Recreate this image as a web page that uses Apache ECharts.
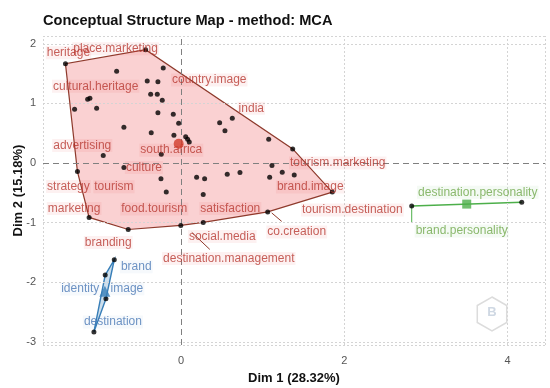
<!DOCTYPE html>
<html><head><meta charset="utf-8">
<script src="https://cdn.jsdelivr.net/npm/echarts@6/dist/echarts.min.js"></script>
<style>html,body{margin:0;padding:0;background:#fff}#c{width:550px;height:388px}</style>
</head><body><div id="c"></div>
<script>
// ---------- data ----------
const dim1Ticks = [0, 2, 4];
const dim2Ticks = [-3, -2, -1, 0, 1, 2];
const dim1Range = [-1.69, 4.46];
const dim2Range = [-3.05, 2.13];

const cluster1 = [
  [-1.415, 1.666, 'heritage'],
  [-0.433, 1.900, 'place.marketing'],
  [-0.788, 1.537, ''],
  [-0.217, 1.592, 'country.image'],
  [-0.413, 1.375, ''],
  [-0.282, 1.363, ''],
  [-0.371, 1.152, ''],
  [-0.290, 1.152, ''],
  [-0.229, 1.052, ''],
  [-1.143, 1.069, 'cultural.heritage'],
  [-1.115, 1.085, ''],
  [-1.303, 0.901, ''],
  [-1.033, 0.918, ''],
  [-0.282, 0.844, ''],
  [-0.094, 0.818, ''],
  [-0.028, 0.667, ''],
  [-0.699, 0.600, ''],
  [-0.364, 0.510, ''],
  [-0.086, 0.467, ''],
  [0.058, 0.443, ''],
  [0.082, 0.400, ''],
  [0.102, 0.355, ''],
  [0.474, 0.677, ''],
  [0.629, 0.751, 'india'],
  [0.539, 0.543, ''],
  [1.075, 0.400, ''],
  [1.369, 0.237, 'tourism.marketing'],
  [-0.952, 0.125, 'advertising'],
  [-0.241, 0.149, 'south.africa'],
  [-0.699, -0.075, 'culture'],
  [-1.268, -0.142, 'strategy'],
  [0.192, -0.236, ''],
  [0.290, -0.264, ''],
  [0.567, -0.186, ''],
  [0.723, -0.159, ''],
  [1.115, -0.042, ''],
  [1.241, -0.156, ''],
  [1.388, -0.202, 'brand.image'],
  [1.087, -0.236, ''],
  [-0.245, -0.264, 'tourism'],
  [-0.180, -0.487, 'food.tourism'],
  [0.273, -0.527, 'satisfaction'],
  [1.854, -0.487, 'tourism.destination'],
  [1.063, -0.819, 'co.creation'],
  [0.273, -0.995, 'social.media'],
  [-0.002, -1.045, 'destination.management'],
  [-0.646, -1.114, 'branding'],
  [-1.125, -0.911, 'marketing']
];
const cluster2 = [
  [-0.817, -1.620, 'brand'],
  [-0.928, -1.878, 'identity'],
  [-0.919, -2.274, 'image'],
  [-1.066, -2.830, 'destination']
];
const cluster3 = [
  [2.827, -0.719, 'brand.personality'],
  [4.175, -0.657, 'destination.personality']
];
const centroid1 = [-0.028, 0.324];
const centroid2 = [-0.932, -2.150];
const centroid3 = [3.501, -0.688];

// ---------- layout (label placement, px offsets from point) ----------
const labelOffsets = {
  'heritage': [3, -11], 'place.marketing': [-30, -1], 'country.image': [46, 12],
  'cultural.heritage': [8, -13], 'india': [19, -10], 'tourism.marketing': [45, 14],
  'advertising': [-21, -10], 'south.africa': [10, -4], 'culture': [20, 0],
  'strategy': [-9, 15], 'brand.image': [16, 12], 'tourism': [-47, 8],
  'food.tourism': [-12, 17], 'satisfaction': [27, 14], 'tourism.destination': [20, 18],
  'co.creation': [29, 20], 'social.media': [19, 14], 'destination.management': [48, 33],
  'branding': [-20, 13], 'marketing': [-15, -9],
  'brand': [22, 7], 'identity': [-25, 14], 'image': [21, -10], 'destination': [19, -10],
  'brand.personality': [50, 25], 'destination.personality': [-44, -10]
};
const segmentOffsets = {
  'destination.management': [[11, 7], [29, 24]],
  'co.creation': [[4, 1], [14, 9.5]],
  'brand.personality': [[0, 0], [0, 17]]
};

const styles = [
  { text: '#B83A32', bg: 'rgba(228,26,28,0.08)', fill: 'rgba(228,26,28,0.2)', stroke: '#8E3A2C', cen: '#D13B2B', sym: 'circle', cs: 10 },
  { text: '#4A78B5', bg: 'rgba(55,126,184,0.06)', fill: 'rgba(55,126,184,0.25)', stroke: '#377EB8', cen: '#377EB8', sym: 'triangle', cs: 11 },
  { text: '#6FA84A', bg: 'rgba(77,175,74,0.08)', fill: 'rgba(77,175,74,0.2)', stroke: '#4DAF4A', cen: '#4DAF4A', sym: 'rect', cs: 9 }
];
const FONT = 'Liberation Sans, Arial, sans-serif';

function convexHull(points) {
  const p = points.map(d => [d[0], d[1]]).sort((a, b) => a[0] - b[0] || a[1] - b[1]);
  if (p.length < 3) return p;
  const cross = (o, a, b) => (a[0] - o[0]) * (b[1] - o[1]) - (a[1] - o[1]) * (b[0] - o[0]);
  const lower = [], upper = [];
  for (const pt of p) { while (lower.length >= 2 && cross(lower[lower.length - 2], lower[lower.length - 1], pt) <= 0) lower.pop(); lower.push(pt); }
  for (let i = p.length - 1; i >= 0; i--) { const pt = p[i]; while (upper.length >= 2 && cross(upper[upper.length - 2], upper[upper.length - 1], pt) <= 0) upper.pop(); upper.push(pt); }
  upper.pop(); lower.pop();
  return lower.concat(upper);
}

const clusters = [cluster1, cluster2, cluster3];
const centroids = [centroid1, centroid2, centroid3];
const series = [];

// grid & border lines
const gridLine = { color: '#d4d4d4', type: [2, 2], width: 1 };
series.push({
  type: 'line', data: [], silent: true, z: 1,
  markLine: {
    silent: true, symbol: 'none', label: { show: false }, animation: false,
    lineStyle: gridLine,
    data: [
      ...dim1Ticks.filter(v => v !== 0).map(v => ({ xAxis: v })),
      ...dim2Ticks.filter(v => v !== 0).map(v => ({ yAxis: v })),
      { xAxis: dim1Range[0] }, { xAxis: dim1Range[1] }, { yAxis: dim2Range[0] }, { yAxis: dim2Range[1] }
    ]
  }
});

clusters.forEach((cl, i) => {
  const st = styles[i];
  const hp = convexHull(cl);
  series.push({
    type: 'custom', z: 2, silent: true, data: [[0, 0]],
    renderItem: (params, api) => ({
      type: hp.length > 2 ? 'polygon' : 'polyline',
      shape: { points: hp.map(p => api.coord(p)) },
      style: { fill: hp.length > 2 ? st.fill : null, stroke: st.stroke, lineWidth: i === 0 ? 1.2 : 1.4 }
    })
  });
});

// reference dashed lines at 0
series.push({
  type: 'line', data: [], silent: true, z: 3,
  markLine: {
    silent: true, symbol: 'none', label: { show: false }, animation: false,
    lineStyle: { color: '#808080', type: [6, 4], width: 1 },
    data: [{ xAxis: 0 }, { yAxis: 0 }]
  }
});

// label segments
clusters.forEach((cl, i) => {
  const segs = cl.filter(d => segmentOffsets[d[2]]);
  series.push({
    type: 'custom', z: 4, silent: true,
    data: segs.map(d => [d[0], d[1]]),
    renderItem: (params, api) => {
      const p = api.coord([api.value(0), api.value(1)]);
      const s = segmentOffsets[segs[params.dataIndex][2]];
      return { type: 'line', shape: { x1: p[0] + s[0][0], y1: p[1] + s[0][1], x2: p[0] + s[1][0], y2: p[1] + s[1][1] }, style: { stroke: styles[i].stroke, lineWidth: 1 } };
    }
  });
});

// points with labels
clusters.forEach((cl, i) => {
  const st = styles[i];
  series.push({
    type: 'scatter', z: 5, symbolSize: 5, itemStyle: { color: '#000' },
    label: {
      show: true, position: 'inside', formatter: '{b}', color: st.text, fontSize: 12, fontFamily: FONT,
      backgroundColor: st.bg, padding: [1, 1, 0, 1]
    },
    data: cl.map(d => ({ value: [d[0], d[1]], name: d[2] })),
    labelLayout: (params) => {
      const name = cl[params.dataIndex][2];
      const o = labelOffsets[name] || [0, 0];
      return { dx: o[0], dy: o[1], hideOverlap: false };
    }
  });
  series.push({
    type: 'scatter', z: 6, symbol: st.sym, symbolSize: st.cs,
    itemStyle: { color: st.cen }, data: [centroids[i]]
  });
});

// hex logo
const hexC = [492, 314], hexR = 17;
const hexPts = [];
for (let k = 0; k < 6; k++) { const a = Math.PI / 3 * k - Math.PI / 2; hexPts.push([hexC[0] + hexR * Math.cos(a), hexC[1] + hexR * Math.sin(a)]); }

const chart = echarts.init(document.getElementById('c'), null, { renderer: 'canvas' });
chart.setOption({
  animation: false,
  backgroundColor: '#fff',
  title: {
    text: 'Conceptual Structure Map - method: MCA', left: 43, top: 13, padding: 0,
    textStyle: { fontSize: 14.6, fontWeight: 'bold', color: '#111', fontFamily: FONT }
  },
  grid: { left: 43, right: 5, top: 36, bottom: 43, containLabel: false, outerBoundsMode: 'none' },
  xAxis: {
    type: 'value', min: dim1Range[0], max: dim1Range[1],
    name: 'Dim 1 (28.32%)', nameLocation: 'middle', nameGap: 27, nameMoveOverlap: false,
    nameTextStyle: { fontSize: 13, fontWeight: 'bold', color: '#111', fontFamily: FONT },
    axisLine: { show: false }, axisTick: { show: false }, splitLine: { show: false },
    axisLabel: { customValues: dim1Ticks, color: '#555', fontSize: 11, margin: 10, fontFamily: FONT }
  },
  yAxis: {
    type: 'value', min: dim2Range[0], max: dim2Range[1],
    name: 'Dim 2 (15.18%)', nameLocation: 'middle', nameGap: 18, nameMoveOverlap: false,
    nameTextStyle: { fontSize: 13, fontWeight: 'bold', color: '#111', fontFamily: FONT },
    axisLine: { show: false }, axisTick: { show: false }, splitLine: { show: false },
    axisLabel: { customValues: dim2Ticks, color: '#555', fontSize: 11, margin: 7, fontFamily: FONT }
  },
  graphic: [
    { type: 'polygon', shape: { points: hexPts }, style: { fill: 'rgba(0,0,0,0)', stroke: '#dcdcdc', lineWidth: 1.5 }, z: 100 },
    { type: 'text', x: hexC[0], y: hexC[1] - 2, style: { text: 'B', fill: '#cfd8e3', font: 'bold 13px ' + FONT, align: 'center', verticalAlign: 'middle' }, z: 100 }
  ],
  series
});
</script></body></html>
